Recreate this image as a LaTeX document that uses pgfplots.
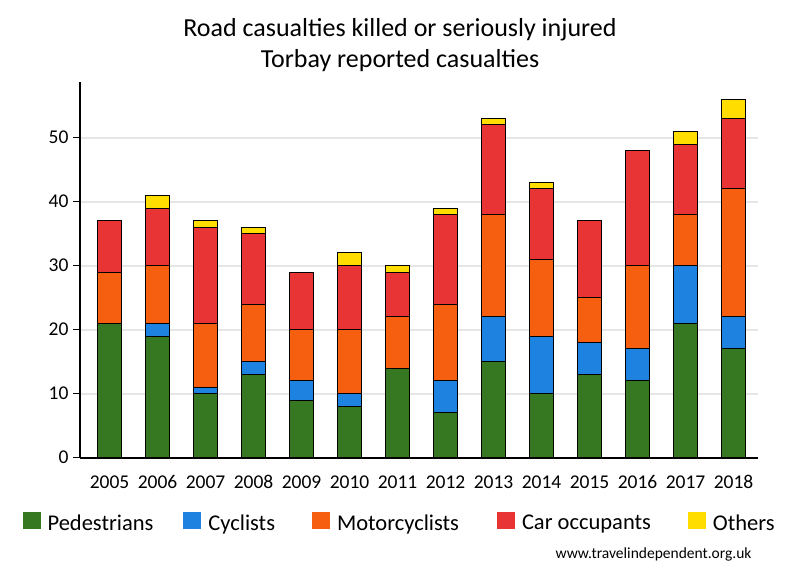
\documentclass[border=0pt]{standalone}
\usepackage{fontspec}
\usepackage{pgfplots}
\pgfplotsset{compat=1.18}
\setmainfont{Carlito}
\definecolor{cPed}{HTML}{367822}
\definecolor{cCyc}{HTML}{1E82E1}
\definecolor{cMot}{HTML}{F55F0F}
\definecolor{cCar}{HTML}{E83434}
\definecolor{cOth}{HTML}{FFDD00}
\definecolor{cGrid}{HTML}{E6E6E6}
\pgfplotstableread{
x ped cyc mot car oth
0 21 0 8 8 0
1 19 2 9 9 2
2 10 1 10 15 1
3 13 2 9 11 1
4 9 3 8 9 0
5 8 2 10 10 2
6 14 0 8 7 1
7 7 5 12 14 1
8 15 7 16 14 1
9 10 9 12 11 1
10 13 5 7 12 0
11 12 5 13 18 0
12 21 9 8 11 2
13 17 5 20 11 3
}\datatable
\begin{document}
\begin{tikzpicture}
\path[use as bounding box] (0pt,0pt) rectangle (800pt,-580pt);
\node[font=\fontsize{26}{31}\selectfont, anchor=base] at (400pt,-37pt) {Road casualties killed or seriously injured};
\node[font=\fontsize{26}{31}\selectfont, anchor=base] at (400pt,-68pt) {Torbay reported casualties};
\node[font=\fontsize{15.5}{19}\selectfont, anchor=base east] at (755pt,-558.3pt) {www.travelindependent.org.uk};
\begin{axis}[
  at={(80pt,-457.7pt)}, anchor=south west,
  scale only axis, width=678pt, height=376pt,
  ybar stacked, bar width=24.4pt,
  xmin=-0.615, xmax=13.51, ymin=0, ymax=58.75,
  axis x line*=bottom, axis y line*=left,
  axis line style={line width=2pt, -},
  xtick={0,...,13},
  xticklabels={2005,2006,2007,2008,2009,2010,2011,2012,2013,2014,2015,2016,2017,2018},
  x tick style={draw=none},
  ytick={0,10,20,30,40,50},
  y tick style={black, line width=1.5pt},
  tick align=outside, major tick length=7pt,
  ymajorgrids, grid style={cGrid, line width=2pt},
  /pgf/number format/assume math mode=true,
  tick label style={font=\fontsize{19.5}{23}\selectfont},
  xticklabel style={anchor=base, yshift=-24pt},
  yticklabel style={xshift=-1pt},
  every axis plot/.append style={draw=black, line width=1pt},
  legend columns=5,
  legend style={at={(rel axis cs:-0.0847,-0.1702)}, anchor=west, draw=none, fill=none,
    inner sep=0pt, outer sep=0pt,
    font=\fontsize{22.5}{27}\selectfont,
    nodes={inner sep=0pt},
    /tikz/every odd column/.append style={column sep=7pt},
    /tikz/column 2/.append style={column sep=30pt},
    /tikz/column 4/.append style={column sep=37pt},
    /tikz/column 6/.append style={column sep=38pt},
    /tikz/column 8/.append style={column sep=37pt}},
  legend image code/.code={\path[#1, draw=none] (0pt,-5.3pt) rectangle (18pt,11.7pt);},
]
\addplot[fill=cPed] table[x=x,y=ped] {\datatable};
\addplot[fill=cCyc] table[x=x,y=cyc] {\datatable};
\addplot[fill=cMot] table[x=x,y=mot] {\datatable};
\addplot[fill=cCar] table[x=x,y=car] {\datatable};
\addplot[fill=cOth] table[x=x,y=oth] {\datatable};
\legend{Pedestrians,Cyclists,Motorcyclists,Car occupants,Others}
\end{axis}
\end{tikzpicture}
\end{document}
